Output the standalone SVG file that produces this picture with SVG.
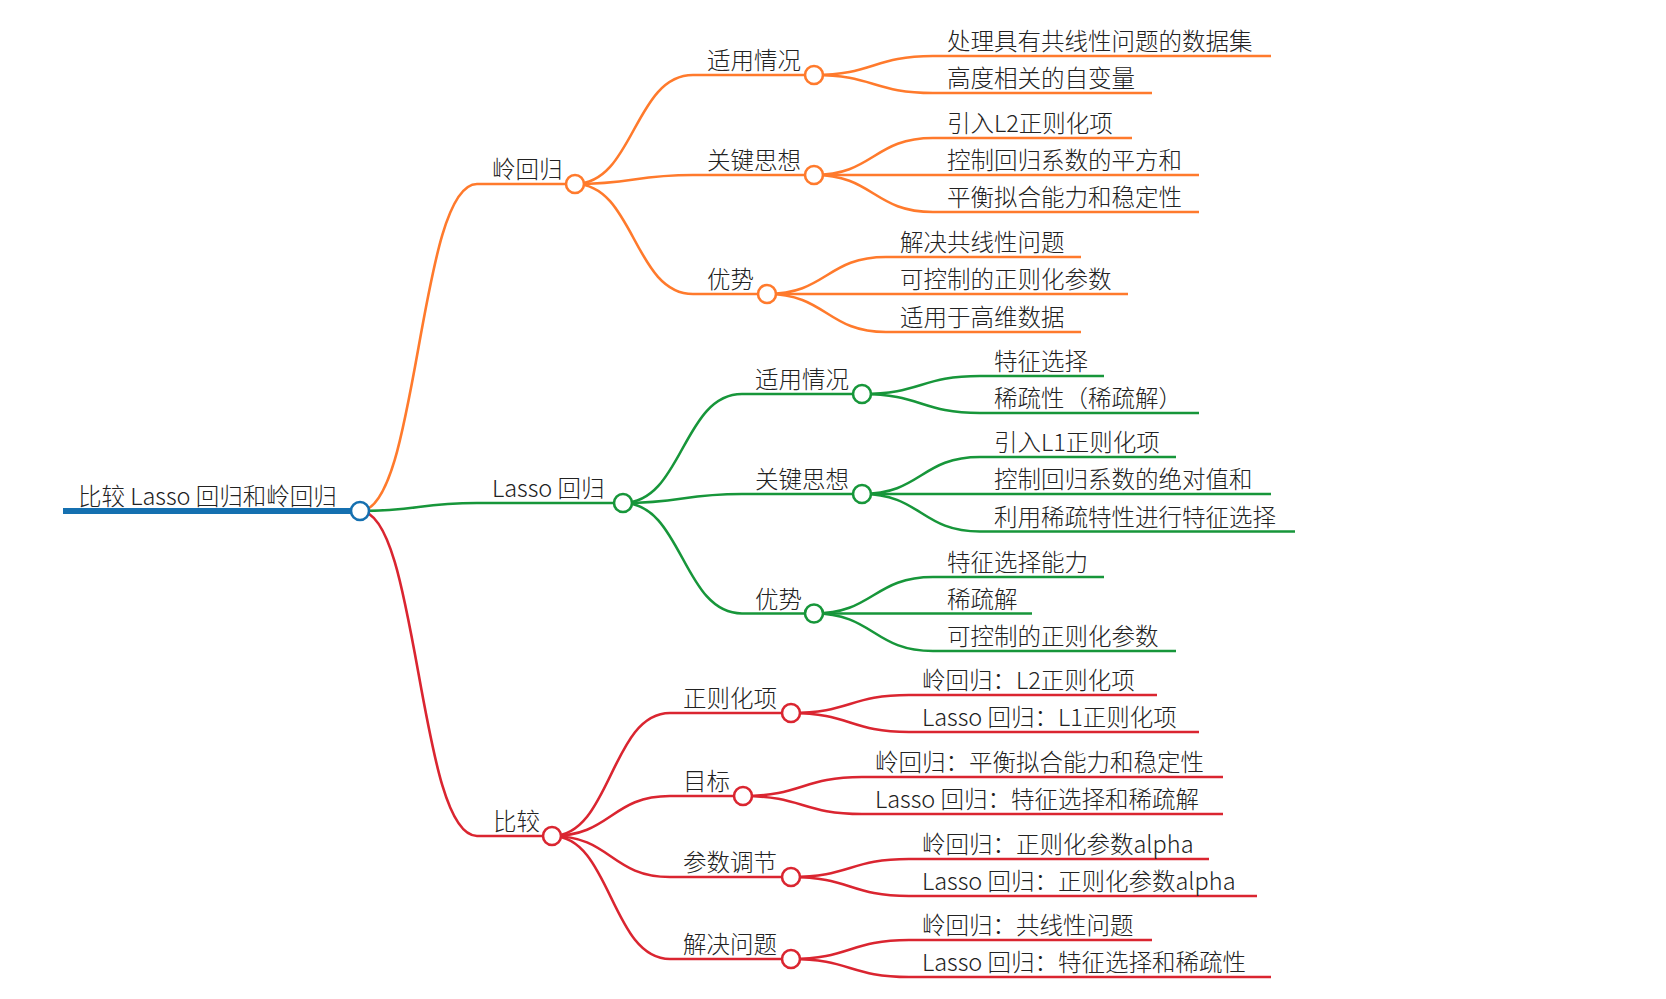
<svg xmlns="http://www.w3.org/2000/svg" width="1666" height="999" viewBox="0 0 1666 999">
<style>
.t{font-family:"Noto Sans CJK SC","Noto Sans",sans-serif;font-size:23.5px;font-weight:300;fill:#222}
.l{fill:none;stroke-width:2.6;stroke-linecap:butt}
.c{fill:#fff;stroke-width:2.6}
.o{stroke:#ff7a2c}
.g{stroke:#17963a}
.r{stroke:#da2530}
.b{stroke:#1570b0}
</style>
<rect width="1666" height="999" fill="#fff"/>
<g id="connectors">
<path class="l o" d="M360,511 C418.5,511 418.5,184 477,184"/>
<path class="l g" d="M360,511 C418.5,511 418.5,503 477,503"/>
<path class="l r" d="M360,511 C418.5,511 418.5,836 477,836"/>
<path class="l o" d="M575,184 C634,184 634,75 693,75"/>
<path class="l o" d="M575,184 C634,184 634,175 693,175"/>
<path class="l o" d="M575,184 C634,184 634,294 693,294"/>
<path class="l g" d="M623,503 C682.5,503 682.5,394 742,394"/>
<path class="l g" d="M623,503 C682.5,503 682.5,494 742,494"/>
<path class="l g" d="M623,503 C682.5,503 682.5,613.5 742,613.5"/>
<path class="l r" d="M552,836 C611,836 611,713 670,713"/>
<path class="l r" d="M552,836 C611,836 611,796 670,796"/>
<path class="l r" d="M552,836 C611,836 611,877 670,877"/>
<path class="l r" d="M552,836 C611,836 611,959 670,959"/>
<path class="l o" d="M814,75 C873.5,75 873.5,56 933,56"/>
<path class="l o" d="M814,75 C873.5,75 873.5,93 933,93"/>
<path class="l o" d="M814,175 C873.5,175 873.5,138 933,138"/>
<path class="l o" d="M814,175 C873.5,175 873.5,175 933,175"/>
<path class="l o" d="M814,175 C873.5,175 873.5,212 933,212"/>
<path class="l o" d="M767,294 C826.5,294 826.5,257 886,257"/>
<path class="l o" d="M767,294 C826.5,294 826.5,294 886,294"/>
<path class="l o" d="M767,294 C826.5,294 826.5,332 886,332"/>
<path class="l g" d="M862,394 C921,394 921,376 980,376"/>
<path class="l g" d="M862,394 C921,394 921,413 980,413"/>
<path class="l g" d="M862,494 C921,494 921,457 980,457"/>
<path class="l g" d="M862,494 C921,494 921,494 980,494"/>
<path class="l g" d="M862,494 C921,494 921,531.5 980,531.5"/>
<path class="l g" d="M814,613.5 C873.5,613.5 873.5,577 933,577"/>
<path class="l g" d="M814,613.5 C873.5,613.5 873.5,613.5 933,613.5"/>
<path class="l g" d="M814,613.5 C873.5,613.5 873.5,651 933,651"/>
<path class="l r" d="M791,713 C850,713 850,695 909,695"/>
<path class="l r" d="M791,713 C850,713 850,732 909,732"/>
<path class="l r" d="M743,796 C802.5,796 802.5,777 862,777"/>
<path class="l r" d="M743,796 C802.5,796 802.5,814 862,814"/>
<path class="l r" d="M791,877 C850,877 850,859 909,859"/>
<path class="l r" d="M791,877 C850,877 850,896 909,896"/>
<path class="l r" d="M791,959 C850,959 850,940 909,940"/>
<path class="l r" d="M791,959 C850,959 850,977 909,977"/>
</g>
<g id="root">
<line class="b" x1="63" y1="511" x2="360" y2="511" stroke-width="6"/>
<text class="t" x="78" y="505">比较 Lasso 回归和岭回归</text>
<circle class="c b" cx="360" cy="511" r="9"/>
</g>
<g id="n-ridge">
<line class="l o" x1="477" y1="184" x2="575" y2="184"/>
<text class="t" x="492" y="178">岭回归</text>
<circle class="c o" cx="575" cy="184" r="9"/>
</g>
<g id="n-lasso">
<line class="l g" x1="477" y1="503" x2="623" y2="503"/>
<text class="t" x="492" y="497">Lasso 回归</text>
<circle class="c g" cx="623" cy="503" r="9"/>
</g>
<g id="n-compare">
<line class="l r" x1="477" y1="836" x2="552" y2="836"/>
<text class="t" x="493" y="830">比较</text>
<circle class="c r" cx="552" cy="836" r="9"/>
</g>
<g id="n-r-use">
<line class="l o" x1="693" y1="75" x2="814" y2="75"/>
<text class="t" x="707" y="69">适用情况</text>
<circle class="c o" cx="814" cy="75" r="9"/>
</g>
<g id="n-r-key">
<line class="l o" x1="693" y1="175" x2="814" y2="175"/>
<text class="t" x="707" y="169">关键思想</text>
<circle class="c o" cx="814" cy="175" r="9"/>
</g>
<g id="n-r-adv">
<line class="l o" x1="693" y1="294" x2="767" y2="294"/>
<text class="t" x="707" y="288">优势</text>
<circle class="c o" cx="767" cy="294" r="9"/>
</g>
<g id="n-l-use">
<line class="l g" x1="742" y1="394" x2="862" y2="394"/>
<text class="t" x="755" y="388">适用情况</text>
<circle class="c g" cx="862" cy="394" r="9"/>
</g>
<g id="n-l-key">
<line class="l g" x1="742" y1="494" x2="862" y2="494"/>
<text class="t" x="755" y="488">关键思想</text>
<circle class="c g" cx="862" cy="494" r="9"/>
</g>
<g id="n-l-adv">
<line class="l g" x1="742" y1="613.5" x2="814" y2="613.5"/>
<text class="t" x="755" y="607.5">优势</text>
<circle class="c g" cx="814" cy="613.5" r="9"/>
</g>
<g id="n-c-reg">
<line class="l r" x1="670" y1="713" x2="791" y2="713"/>
<text class="t" x="683" y="707">正则化项</text>
<circle class="c r" cx="791" cy="713" r="9"/>
</g>
<g id="n-c-goal">
<line class="l r" x1="670" y1="796" x2="743" y2="796"/>
<text class="t" x="683" y="790">目标</text>
<circle class="c r" cx="743" cy="796" r="9"/>
</g>
<g id="n-c-param">
<line class="l r" x1="670" y1="877" x2="791" y2="877"/>
<text class="t" x="683" y="871">参数调节</text>
<circle class="c r" cx="791" cy="877" r="9"/>
</g>
<g id="n-c-solve">
<line class="l r" x1="670" y1="959" x2="791" y2="959"/>
<text class="t" x="683" y="953">解决问题</text>
<circle class="c r" cx="791" cy="959" r="9"/>
</g>
<g id="leaf-1"><line class="l o" x1="933" y1="56" x2="1271" y2="56"/><text class="t" x="947" y="50">处理具有共线性问题的数据集</text></g>
<g id="leaf-2"><line class="l o" x1="933" y1="93" x2="1152" y2="93"/><text class="t" x="947" y="87">高度相关的自变量</text></g>
<g id="leaf-3"><line class="l o" x1="933" y1="138" x2="1132" y2="138"/><text class="t" x="947" y="132">引入L2正则化项</text></g>
<g id="leaf-4"><line class="l o" x1="933" y1="175" x2="1199" y2="175"/><text class="t" x="947" y="169">控制回归系数的平方和</text></g>
<g id="leaf-5"><line class="l o" x1="933" y1="212" x2="1199" y2="212"/><text class="t" x="947" y="206">平衡拟合能力和稳定性</text></g>
<g id="leaf-6"><line class="l o" x1="886" y1="257" x2="1081" y2="257"/><text class="t" x="900" y="251">解决共线性问题</text></g>
<g id="leaf-7"><line class="l o" x1="886" y1="294" x2="1128" y2="294"/><text class="t" x="900" y="288">可控制的正则化参数</text></g>
<g id="leaf-8"><line class="l o" x1="886" y1="332" x2="1081" y2="332"/><text class="t" x="900" y="326">适用于高维数据</text></g>
<g id="leaf-9"><line class="l g" x1="980" y1="376" x2="1104" y2="376"/><text class="t" x="994" y="370">特征选择</text></g>
<g id="leaf-10"><line class="l g" x1="980" y1="413" x2="1199" y2="413"/><text class="t" x="994" y="407">稀疏性（稀疏解）</text></g>
<g id="leaf-11"><line class="l g" x1="980" y1="457" x2="1176" y2="457"/><text class="t" x="994" y="451">引入L1正则化项</text></g>
<g id="leaf-12"><line class="l g" x1="980" y1="494" x2="1271" y2="494"/><text class="t" x="994" y="488">控制回归系数的绝对值和</text></g>
<g id="leaf-13"><line class="l g" x1="980" y1="531.5" x2="1295" y2="531.5"/><text class="t" x="994" y="525.5">利用稀疏特性进行特征选择</text></g>
<g id="leaf-14"><line class="l g" x1="933" y1="577" x2="1104" y2="577"/><text class="t" x="947" y="571">特征选择能力</text></g>
<g id="leaf-15"><line class="l g" x1="933" y1="613.5" x2="1032" y2="613.5"/><text class="t" x="947" y="607.5">稀疏解</text></g>
<g id="leaf-16"><line class="l g" x1="933" y1="651" x2="1176" y2="651"/><text class="t" x="947" y="645">可控制的正则化参数</text></g>
<g id="leaf-17"><line class="l r" x1="909" y1="695" x2="1157" y2="695"/><text class="t" x="922" y="689">岭回归：L2正则化项</text></g>
<g id="leaf-18"><line class="l r" x1="909" y1="732" x2="1199" y2="732"/><text class="t" x="922" y="726">Lasso 回归：L1正则化项</text></g>
<g id="leaf-19"><line class="l r" x1="862" y1="777" x2="1223" y2="777"/><text class="t" x="875" y="771">岭回归：平衡拟合能力和稳定性</text></g>
<g id="leaf-20"><line class="l r" x1="862" y1="814" x2="1223" y2="814"/><text class="t" x="875" y="808">Lasso 回归：特征选择和稀疏解</text></g>
<g id="leaf-21"><line class="l r" x1="909" y1="859" x2="1209" y2="859"/><text class="t" x="922" y="853">岭回归：正则化参数alpha</text></g>
<g id="leaf-22"><line class="l r" x1="909" y1="896" x2="1257" y2="896"/><text class="t" x="922" y="890">Lasso 回归：正则化参数alpha</text></g>
<g id="leaf-23"><line class="l r" x1="909" y1="940" x2="1152" y2="940"/><text class="t" x="922" y="934">岭回归：共线性问题</text></g>
<g id="leaf-24"><line class="l r" x1="909" y1="977" x2="1271" y2="977"/><text class="t" x="922" y="971">Lasso 回归：特征选择和稀疏性</text></g>
</svg>
